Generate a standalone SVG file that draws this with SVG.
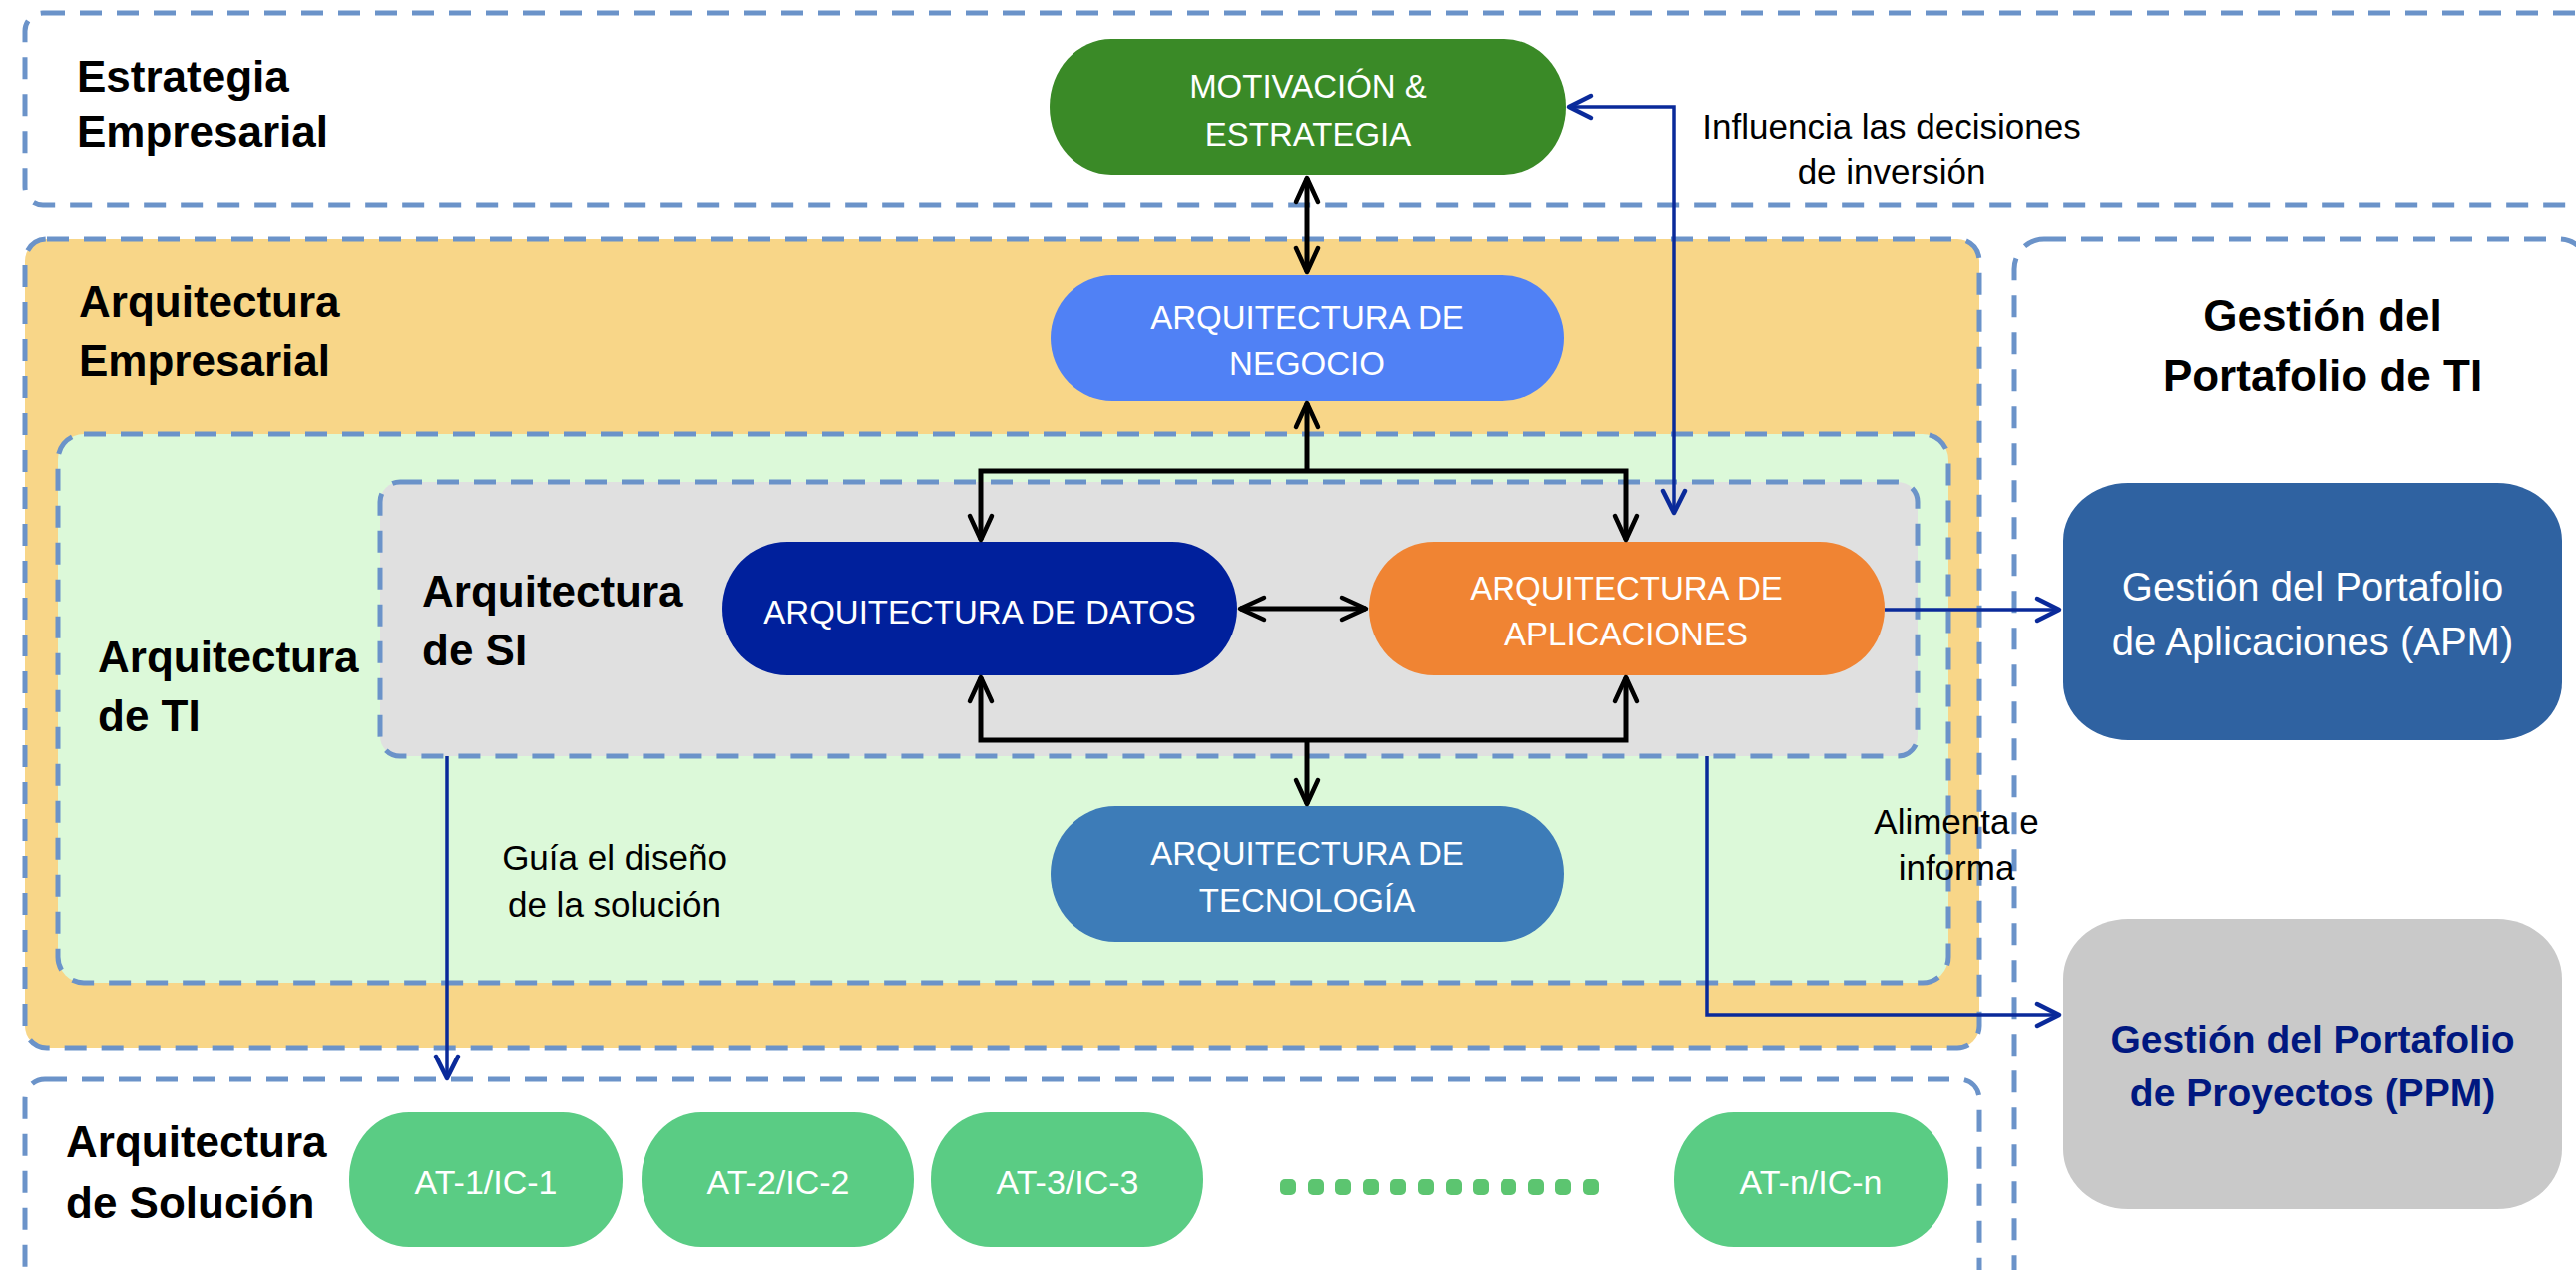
<svg xmlns="http://www.w3.org/2000/svg" width="2582" height="1273" viewBox="0 0 2582 1273">
<style>
.frame{stroke:#6B93C9;stroke-width:5;stroke-dasharray:22 15}
.head{font-family:"Liberation Sans",Arial,sans-serif;font-weight:bold;font-size:44px;fill:#000}
.nt{font-family:"Liberation Sans",Arial,sans-serif;font-size:33px;fill:#fff;text-anchor:middle}
.lbl{font-family:"Liberation Sans",Arial,sans-serif;font-size:35px;fill:#000;text-anchor:middle}
.blk{fill:none;stroke:#000;stroke-width:5}
.blu{fill:none;stroke:#0A2A9A;stroke-width:3.5}
.dot{fill:#5CC570}
</style>
<defs>
<marker id="ak" viewBox="-30 -15 34 30" refX="0" refY="0" markerWidth="34" markerHeight="30" markerUnits="userSpaceOnUse" orient="auto-start-reverse">
<path d="M-24,-11 L0,0 L-24,11" fill="none" stroke="#000" stroke-width="4.5" stroke-linejoin="round" stroke-linecap="round"/>
</marker>
<marker id="ab" viewBox="-30 -15 34 30" refX="0" refY="0" markerWidth="34" markerHeight="30" markerUnits="userSpaceOnUse" orient="auto-start-reverse">
<path d="M-22,-11 L0,0 L-22,11" fill="none" stroke="#0A2A9A" stroke-width="4.5" stroke-linejoin="round" stroke-linecap="round"/>
</marker>
</defs>

<g id="frame-estrategia">
<rect class="frame" x="25" y="13" width="2600" height="192" rx="18" fill="#fff"/>
<text class="head" x="77" y="92">Estrategia</text>
<text class="head" x="77" y="147">Empresarial</text>
</g>

<g id="frame-empresarial">
<rect class="frame" x="25" y="240" width="1959" height="810" rx="22" fill="#F8D688"/>
<text class="head" x="79" y="318">Arquitectura</text>
<text class="head" x="79" y="377">Empresarial</text>
</g>

<g id="frame-ti">
<rect class="frame" x="58" y="435" width="1895" height="550" rx="26" fill="#DCF9D9"/>
<text class="head" x="98" y="674">Arquitectura</text>
<text class="head" x="98" y="733">de TI</text>
</g>

<g id="frame-si">
<rect class="frame" x="381" y="483" width="1541" height="275" rx="20" fill="#E0E0E0"/>
<text class="head" x="423" y="608">Arquitectura</text>
<text class="head" x="423" y="667">de SI</text>
</g>

<g id="frame-solucion">
<rect class="frame" x="25" y="1082" width="1959" height="230" rx="20" fill="#fff"/>
<text class="head" x="66" y="1160">Arquitectura</text>
<text class="head" x="66" y="1221">de Solución</text>
</g>

<g id="frame-portafolio">
<rect class="frame" x="2019" y="240" width="576" height="1070" rx="30" fill="#fff"/>
<text class="head" x="2328" y="332" text-anchor="middle">Gestión del</text>
<text class="head" x="2328" y="392" text-anchor="middle">Portafolio de TI</text>
</g>

<g id="node-motivacion">
<rect x="1052" y="39" width="518" height="136" rx="62" ry="68" fill="#3A8A27"/>
<text class="nt" x="1311" y="98">MOTIVACIÓN &amp;</text>
<text class="nt" x="1311" y="146">ESTRATEGIA</text>
</g>

<g id="node-negocio">
<rect x="1053" y="276" width="515" height="126" rx="62" ry="63" fill="#5081F5"/>
<text class="nt" x="1310" y="330">ARQUITECTURA DE</text>
<text class="nt" x="1310" y="376">NEGOCIO</text>
</g>

<g id="node-datos">
<rect x="724" y="543" width="516" height="134" rx="65" ry="67" fill="#00209C"/>
<text class="nt" x="982" y="625">ARQUITECTURA DE DATOS</text>
</g>

<g id="node-aplicaciones">
<rect x="1372" y="543" width="517" height="134" rx="65" ry="67" fill="#F08433"/>
<text class="nt" x="1630" y="601">ARQUITECTURA DE</text>
<text class="nt" x="1630" y="647">APLICACIONES</text>
</g>

<g id="node-tecnologia">
<rect x="1053" y="808" width="515" height="136" rx="65" ry="68" fill="#3D7CB8"/>
<text class="nt" x="1310" y="867">ARQUITECTURA DE</text>
<text class="nt" x="1310" y="914">TECNOLOGÍA</text>
</g>

<g id="node-apm">
<rect x="2068" y="484" width="500" height="258" rx="65" ry="58" fill="#2F62A1"/>
<text class="nt" x="2318" y="602" style="font-size:40px">Gestión del Portafolio</text>
<text class="nt" x="2318" y="657" style="font-size:40px">de Aplicaciones (APM)</text>
</g>

<g id="node-ppm">
<rect x="2068" y="921" width="500" height="291" rx="65" ry="60" fill="#C9C9C9"/>
<text class="nt" x="2318" y="1055" style="font-size:39px;font-weight:bold;fill:#001880">Gestión del Portafolio</text>
<text class="nt" x="2318" y="1109" style="font-size:39px;font-weight:bold;fill:#001880">de Proyectos (PPM)</text>
</g>

<g id="node-at1">
<rect x="350" y="1115" width="274" height="135" rx="60" ry="67" fill="#5ACC84"/>
<text class="nt" x="487" y="1197" style="font-size:34px">AT-1/IC-1</text>
</g>
<g id="node-at2">
<rect x="643" y="1115" width="273" height="135" rx="60" ry="67" fill="#5ACC84"/>
<text class="nt" x="780" y="1197" style="font-size:34px">AT-2/IC-2</text>
</g>
<g id="node-at3">
<rect x="933" y="1115" width="273" height="135" rx="60" ry="67" fill="#5ACC84"/>
<text class="nt" x="1070" y="1197" style="font-size:34px">AT-3/IC-3</text>
</g>
<g id="node-atn">
<rect x="1678" y="1115" width="275" height="135" rx="60" ry="67" fill="#5ACC84"/>
<text class="nt" x="1815" y="1197" style="font-size:34px">AT-n/IC-n</text>
</g>

<g id="ellipsis">
<rect class="dot" x="1283" y="1182" width="16" height="16" rx="5"/>
<rect class="dot" x="1311" y="1182" width="16" height="16" rx="5"/>
<rect class="dot" x="1338" y="1182" width="16" height="16" rx="5"/>
<rect class="dot" x="1366" y="1182" width="16" height="16" rx="5"/>
<rect class="dot" x="1393" y="1182" width="16" height="16" rx="5"/>
<rect class="dot" x="1421" y="1182" width="16" height="16" rx="5"/>
<rect class="dot" x="1449" y="1182" width="16" height="16" rx="5"/>
<rect class="dot" x="1476" y="1182" width="16" height="16" rx="5"/>
<rect class="dot" x="1504" y="1182" width="16" height="16" rx="5"/>
<rect class="dot" x="1532" y="1182" width="16" height="16" rx="5"/>
<rect class="dot" x="1559" y="1182" width="16" height="16" rx="5"/>
<rect class="dot" x="1587" y="1182" width="16" height="16" rx="5"/>
</g>

<g id="connectors">
<path class="blk" d="M1310,178 L1310,273" marker-start="url(#ak)" marker-end="url(#ak)"/>
<path class="blk" d="M1310,404 L1310,472" marker-start="url(#ak)"/>
<path class="blk" d="M983,541 L983,472 L1630,472 L1630,541" marker-start="url(#ak)" marker-end="url(#ak)"/>
<path class="blk" d="M1243,610 L1369,610" marker-start="url(#ak)" marker-end="url(#ak)"/>
<path class="blk" d="M983,679 L983,742 L1630,742 L1630,679" marker-start="url(#ak)" marker-end="url(#ak)"/>
<path class="blk" d="M1310,742 L1310,806" marker-end="url(#ak)"/>
<path class="blu" d="M1573,107 L1678,107 L1678,514" marker-start="url(#ab)" marker-end="url(#ab)"/>
<path class="blu" d="M1889,611 L2064,611" marker-end="url(#ab)"/>
<path class="blu" d="M1711,758 L1711,1017 L2064,1017" marker-end="url(#ab)"/>
<path class="blu" d="M448,758 L448,1081" marker-end="url(#ab)"/>
<text class="lbl" x="1896" y="139">Influencia las decisiones</text>
<text class="lbl" x="1896" y="184">de inversión</text>
<text class="lbl" x="616" y="872">Guía el diseño</text>
<text class="lbl" x="616" y="919">de la solución</text>
<text class="lbl" x="1961" y="836">Alimenta e</text>
<text class="lbl" x="1961" y="882">informa</text>
</g>
</svg>
